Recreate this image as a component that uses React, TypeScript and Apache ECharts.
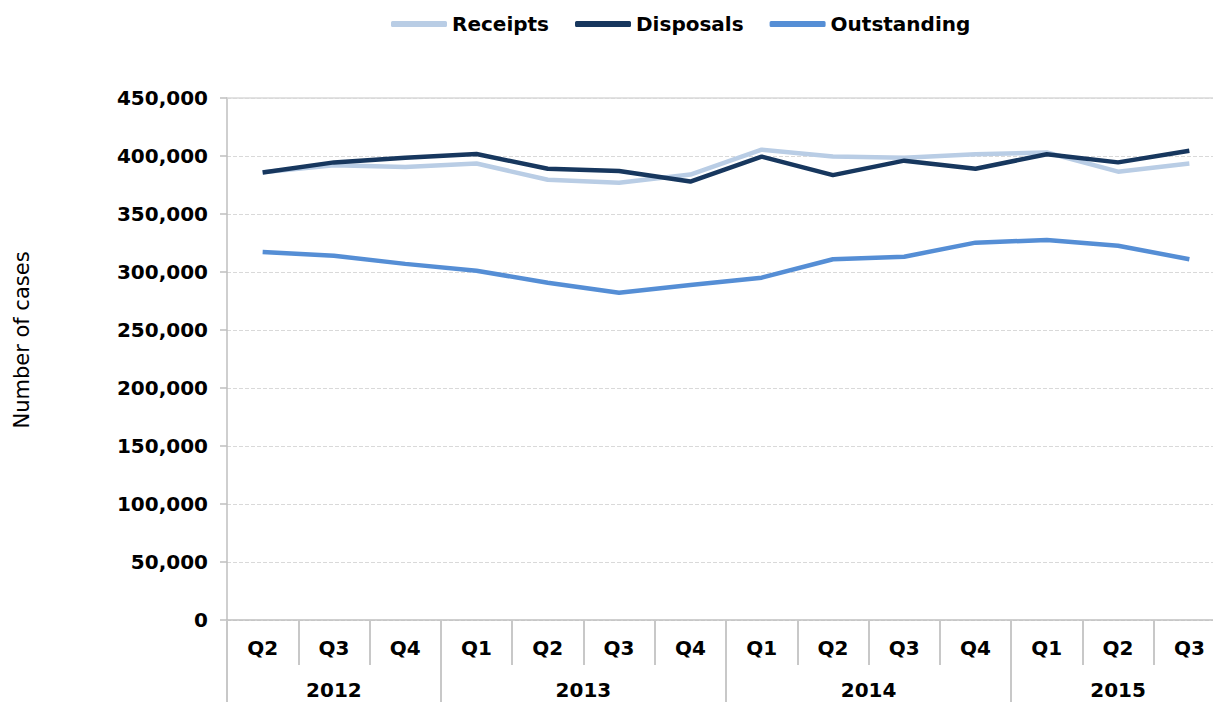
import React, { useEffect, useRef } from "react";
import * as echarts from "echarts";

const quarters = ["Q2", "Q3", "Q4", "Q1", "Q2", "Q3", "Q4", "Q1", "Q2", "Q3", "Q4", "Q1", "Q2", "Q3"];
const quarterYears = ["2012", "2012", "2012", "2013", "2013", "2013", "2013", "2014", "2014", "2014", "2014", "2015", "2015", "2015"];
const receipts = [386000, 392000, 390500, 393500, 379500, 377000, 384000, 405500, 399500, 398500, 401500, 403000, 386500, 393500];
const disposals = [385800, 394500, 398500, 401700, 389000, 387000, 378000, 399500, 383500, 396000, 389000, 401500, 394500, 404500];
const outstanding = [317200, 314000, 307000, 301000, 290800, 282200, 288800, 295100, 311000, 313200, 325300, 327600, 322700, 311000];
const yTicks = { min: 0, max: 450000, interval: 50000 };

const FONT = "DejaVu Sans";

export default function App() {
  const ref = useRef<HTMLDivElement>(null);
  useEffect(() => {
    if (!ref.current) return;
    const chart = echarts.init(ref.current, null, { renderer: "svg" });

    const groups: { year: string; start: number; len: number }[] = [];
    quarterYears.forEach((y, i) => {
      const g = groups[groups.length - 1];
      if (g && g.year === y) g.len++;
      else groups.push({ year: y, start: i, len: 1 });
    });
    const halfData: string[] = new Array(quarters.length * 2 + 1).fill("");
    const boundaries = new Set<number>();
    groups.forEach((g) => {
      halfData[2 * g.start + g.len] = g.year;
      boundaries.add(2 * g.start);
    });
    boundaries.add(quarters.length * 2);

    chart.setOption({
      animation: false,
      legend: {
        top: 9,
        left: 386,
        itemGap: 26,
        itemWidth: 56,
        itemHeight: 6,
        icon: "roundRect",
        textStyle: { fontFamily: FONT, fontWeight: "bold", fontSize: 20, color: "#000" },
        data: ["Receipts", "Disposals", "Outstanding"],
      },
      grid: { left: 227, top: 98, width: 998, height: 522, outerBoundsMode: "none", containLabel: false },
      graphic: [
        {
          type: "text",
          x: 22,
          y: 340,
          rotation: Math.PI / 2,
          style: {
            text: "Number of cases",
            fontFamily: FONT,
            fontSize: 21,
            fill: "#000",
            textAlign: "center",
            textVerticalAlign: "middle",
          },
        },
      ],
      xAxis: [
        {
          type: "category",
          data: quarters,
          position: "bottom",
          boundaryGap: true,
          axisLine: { show: true, lineStyle: { color: "#bfbfbf", width: 1.5 } },
          axisTick: { show: true, interval: 0, length: 45, lineStyle: { color: "#c8c8c8", width: 2 } },
          axisLabel: { interval: 0, margin: 18, fontFamily: FONT, fontWeight: "bold", fontSize: 20, color: "#000" },
          splitLine: { show: false },
        },
        {
          type: "category",
          data: halfData,
          position: "bottom",
          boundaryGap: false,
          axisLine: { show: false },
          axisTick: {
            show: true,
            length: 100,
            interval: (i: number) => boundaries.has(i),
            lineStyle: { color: "#c8c8c8", width: 2 },
          },
          axisLabel: {
            interval: (i: number, v: string) => v !== "",
            margin: 60,
            fontFamily: FONT,
            fontWeight: "bold",
            fontSize: 20,
            color: "#000",
          },
          splitLine: { show: false },
        },
        {
          type: "category",
          data: quarters,
          position: "top",
          axisLine: { show: true, lineStyle: { color: "#d9d9d9", width: 1.5 } },
          axisTick: { show: false },
          axisLabel: { show: false },
          splitLine: { show: false },
        },
      ],
      yAxis: {
        type: "value",
        min: yTicks.min,
        max: yTicks.max,
        interval: yTicks.interval,
        axisLine: { show: true, lineStyle: { color: "#bfbfbf", width: 1.5 } },
        axisTick: { show: true, length: 7, lineStyle: { color: "#bfbfbf", width: 1.5 } },
        axisLabel: {
          margin: 19,
          fontFamily: FONT,
          fontWeight: "bold",
          fontSize: 20,
          color: "#000",
          formatter: (v: number) => v.toLocaleString("en-US"),
        },
        splitLine: { show: true, lineStyle: { color: "#d9d9d9", type: "dashed", width: 1 } },
      },
      series: [
        {
          name: "Receipts",
          type: "line",
          data: receipts,
          showSymbol: false,
          color: "#b9cde5",
          lineStyle: { width: 4.5, color: "#b9cde5" },
          z: 2,
        },
        {
          name: "Disposals",
          type: "line",
          data: disposals,
          showSymbol: false,
          color: "#17375e",
          lineStyle: { width: 4.5, color: "#17375e" },
          z: 3,
        },
        {
          name: "Outstanding",
          type: "line",
          data: outstanding,
          showSymbol: false,
          color: "#558ed5",
          lineStyle: { width: 4.5, color: "#558ed5" },
          z: 3,
        },
      ],
    });
    return () => chart.dispose();
  }, []);
  return (
    <div
      ref={ref}
      style={{ position: "fixed", left: 0, top: 0, width: 1213, height: 702, background: "#fff" }}
    />
  );
}
